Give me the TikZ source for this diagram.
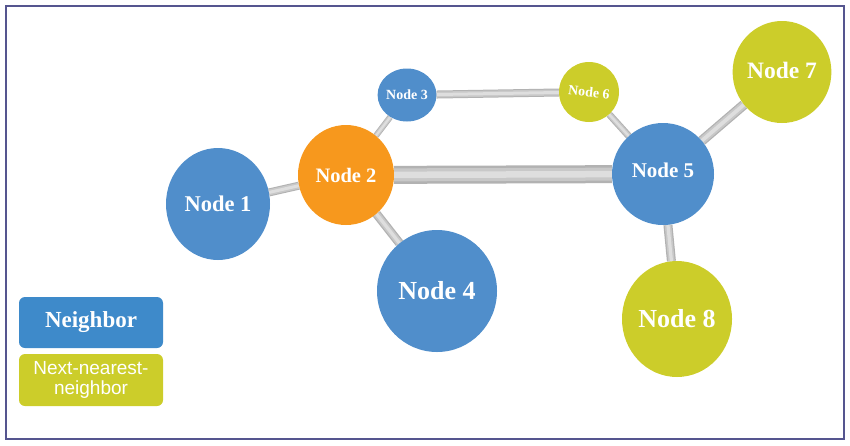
\documentclass[tikz,border=0pt]{standalone}
\usepackage{fontspec}
\setmainfont{Liberation Serif}
\newfontfamily\legsans{Liberation Sans}
\usetikzlibrary{shapes.geometric,backgrounds}
\definecolor{nblue}{HTML}{508ECB}
\definecolor{lblue}{HTML}{3E8ACA}
\definecolor{norange}{HTML}{F7981D}
\definecolor{nyellow}{HTML}{CCCD2A}
\definecolor{framec}{HTML}{55558F}
\definecolor{edgedark}{HTML}{B2B2B2}
\definecolor{edgemid}{HTML}{C8C8C8}
\definecolor{edgelight}{HTML}{DEDEDE}
\newcommand{\fs}[1]{\fontsize{#1}{#1}\selectfont}
\begin{document}
\begin{tikzpicture}[x=1pt,y=-1pt,
  bub/.style={ellipse, draw=none, inner sep=0pt, text=white},
  link/.style 2 args={draw=edgedark, line width=#1,
    postaction={draw=edgemid, line width=#2},
    postaction={draw=edgelight, line width=0.5*#2}},
  legbox/.style={rectangle, rounded corners=6pt, draw=none, inner sep=0pt,
    minimum width=144pt, minimum height=51pt, text=white, align=center}]
\useasboundingbox (0,0) rectangle (850,445);
\draw[framec, line width=2pt] (6,6) rectangle (844,439);

\node[bub, fill=nblue, minimum width=104pt, minimum height=112pt, font=\bfseries\fs{22.5}] (n1) at (218,204) {\raisebox{-2pt}{Node 1}};
\node[bub, fill=norange, minimum width=96pt, minimum height=100pt, font=\bfseries\fs{20.5}] (n2) at (346,175) {Node 2};
\node[bub, fill=nblue, minimum width=50pt, minimum height=53pt, font=\bfseries\fs{14}] (n3) at (407,95) {Node 3};
\node[bub, fill=nblue, minimum width=120pt, minimum height=122pt, font=\bfseries\fs{26}] (n4) at (437,291) {Node 4};
\node[bub, fill=nblue, minimum width=102pt, minimum height=102pt, font=\bfseries\fs{21}] (n5) at (663,174) {\raisebox{8pt}{Node 5}};
\node[bub, fill=nyellow, minimum width=56pt, minimum height=60pt, font=\bfseries\fs{14}] (n6) at (589,92) {\rotatebox{-6}{Node 6}};
\node[bub, fill=nyellow, minimum width=94pt, minimum height=102pt, font=\bfseries\fs{23.5}] (n7) at (782,72) {\raisebox{3pt}{Node 7}};
\node[bub, fill=nyellow, minimum width=110pt, minimum height=116pt, font=\bfseries\fs{26}] (n8) at (677,319) {Node 8};

\begin{scope}[on background layer]
\draw[link={8pt}{6pt}] (n1) -- (n2);
\draw[link={6pt}{4.5pt}] (n2) -- (n3);
\draw[link={9pt}{6.5pt}] (n2) -- (n4);
\draw[link={18pt}{13pt}] (n2) -- (n5);
\draw[link={8pt}{6pt}] (n3) -- (n6);
\draw[link={7pt}{5pt}] (n6) -- (n5);
\draw[link={10pt}{7.5pt}] (n5) -- (n7);
\draw[link={9pt}{6.5pt}] (n5) -- (n8);
\end{scope}

\node[legbox, fill=lblue, font=\bfseries\fs{23}] (lg1) at (91,322.5) {Neighbor};
\node[legbox, fill=nyellow, minimum height=52pt, font=\legsans\fontsize{19}{20}\selectfont] (lg2) at (91,380) {Next-nearest-\\neighbor};
\end{tikzpicture}
\end{document}
